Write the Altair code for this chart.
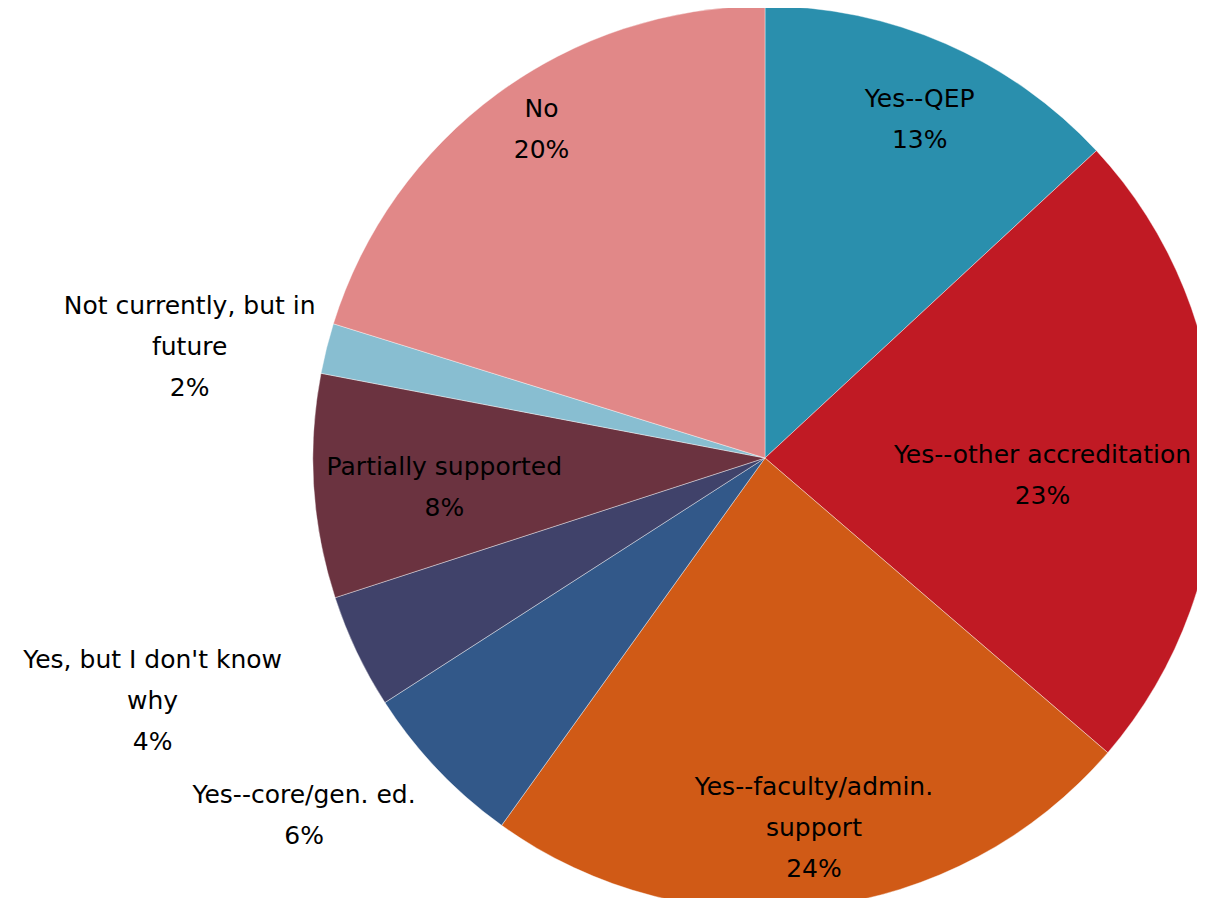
import math
import altair as alt
import pandas as pd

categories = [
    "Yes--QEP",
    "Yes--other accreditation",
    "Yes--faculty/admin. support",
    "Yes--core/gen. ed.",
    "Yes, but I don't know why",
    "Partially supported",
    "Not currently, but in future",
    "No",
]
values = [13.1, 23.2, 23.6, 6.0, 4.1, 8.0, 1.8, 20.2]
pct_labels = ["13%", "23%", "24%", "6%", "4%", "8%", "2%", "20%"]
label_lines = [
    ["Yes--QEP"],
    ["Yes--other accreditation"],
    ["Yes--faculty/admin.", "support"],
    ["Yes--core/gen. ed."],
    ["Yes, but I don't know", "why"],
    ["Partially supported"],
    ["Not currently, but in", "future"],
    ["No"],
]
colors = ["#2A8FAD", "#C01A24", "#D05A16", "#325889", "#40426A",
          "#6B3340", "#88BED1", "#E18888"]

# label placement (style): block-centre radius in px and angular nudge in degrees
label_radius = [372, 278, 373, 583, 659, 322, 586, 397]
label_nudge = [1.0, 4.6, -0.7, 5.8, 3.7, -1.6, -3.1, 2.1]

CX, CY, R = 757, 450, 452
LH = 41

total = sum(values)
rows = []
cum = 0.0
for i, (c, v) in enumerate(zip(categories, values)):
    mid = math.radians((cum + v / 2) / total * 360 + label_nudge[i])
    cum += v
    lines = label_lines[i] + [pct_labels[i]]
    # Vega draws the first line at the anchor; shift anchor so block is centred
    ox = label_radius[i] * math.sin(mid)
    oy = -label_radius[i] * math.cos(mid) - (len(lines) - 1) * LH / 2
    rows.append({
        "cat": c, "val": v, "order": i,
        "txt": lines,
        "lt": math.atan2(ox, -oy), "lr": math.hypot(ox, oy),
    })
df = pd.DataFrame(rows)

color_scale = alt.Scale(domain=categories, range=colors)

pie = alt.Chart(df).mark_arc(stroke="#ffffff", strokeWidth=0.4, radius=R).encode(
    theta=alt.Theta("val:Q", stack=True),
    order=alt.Order("order:Q"),
    color=alt.Color("cat:N", scale=color_scale, legend=None),
    x=alt.value(CX),
    y=alt.value(CY),
)

labels = alt.Chart(df).mark_text(
    font="DejaVu Sans", fontSize=25, color="#000000", lineHeight=LH,
    align="center", baseline="middle",
).encode(
    theta=alt.Theta("lt:Q", scale=None),
    radius=alt.Radius("lr:Q", scale=None),
    text=alt.Text("txt"),
    x=alt.value(CX),
    y=alt.value(CY),
)

chart = alt.layer(pie, labels).properties(
    width=1189, height=890, padding=0, autosize="none",
    background="#ffffff",
).configure_view(stroke=None)

chart.save("out.html", embed_options={"renderer": "svg", "actions": False})
